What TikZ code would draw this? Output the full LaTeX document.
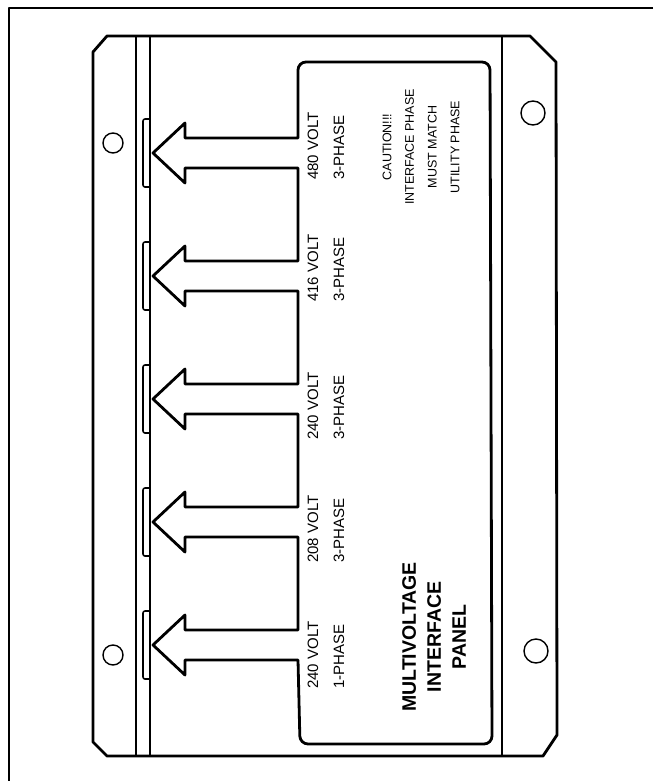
\documentclass[tikz,border=0pt]{standalone}
\usepackage{fontspec}
\setmainfont{Liberation Sans}
\begin{document}
\begin{tikzpicture}[x=1pt, y=-1pt, line join=round,
		panel/.style={line width=2.8pt},
		rail/.style={line width=1.6pt},
		hole/.style={line width=1.4pt},
		volt/.style={rotate=90, anchor=west, align=left, inner sep=0pt, font=\fontsize{15}{26}\selectfont},
		caution/.style={rotate=90, align=center, inner sep=0pt, font=\fontsize{12.5}{22.7}\selectfont},
		title/.style={rotate=90, align=center, inner sep=0pt, font=\fontsize{19.5}{25}\selectfont\bfseries}]
	\useasboundingbox (0,0) rectangle (653,781);
	% outer frame
	\draw[line width=2pt] (653,8) -- (9,8) -- (9,781);
	% panel
	\draw[panel] (107,36) -- (530,36) -- (556,62) -- (557,735) -- (543,756) -- (107,756) -- (93,742) -- (93,52) -- cycle;
	\draw[rail] (136,36) -- (136,756);
	\draw[line width=2pt] (150,36) -- (150,756);
	\draw[panel] (502,36) -- (502,756);
	\foreach \x / \y / \r in {113/143/10, 113/655/10, 533/113/12, 536/651/12} {
		\draw[hole] (\x,\y) circle (\r);
	}
	% slots
	\foreach \c in {153, 276, 399, 522, 645} {
		\draw[rail, rounded corners=2] (150,\c-34) -| (143,\c+34) -- (150,\c+34);
	}
	% label plate with arrows
	\draw[panel] (298,100) [rounded corners=8] -- (298,62) -- (490,62) -- (492,744) -- (300,744) [sharp corners] -- (298,660)
		\foreach \c in {645, 522, 399, 276, 153} {
			-- (298,\c+15) -- (185,\c+15) -- (185,\c+30) -- (153,\c) -- (185,\c-30) -- (185,\c-15) -- (298,\c-15)
		} -- cycle;
	% texts
	\node[volt] (v480) at (326,180) {480 VOLT\\3-PHASE};
	\node[volt] (v416) at (326,302) {416 VOLT\\3-PHASE};
	\node[volt] (v240) at (326,440) {240 VOLT\\3-PHASE};
	\node[volt] (v208) at (326,563) {208 VOLT\\3-PHASE};
	\node[volt] (v240s) at (326,689) {240 VOLT\\1-PHASE};
	\node[caution] (warn) at (421,147) {CAUTION!!!\\INTERFACE PHASE\\MUST MATCH\\UTILITY PHASE};
	\node[title] (name) at (434,637) {MULTIVOLTAGE\\INTERFACE\\PANEL};
\end{tikzpicture}
\end{document}
